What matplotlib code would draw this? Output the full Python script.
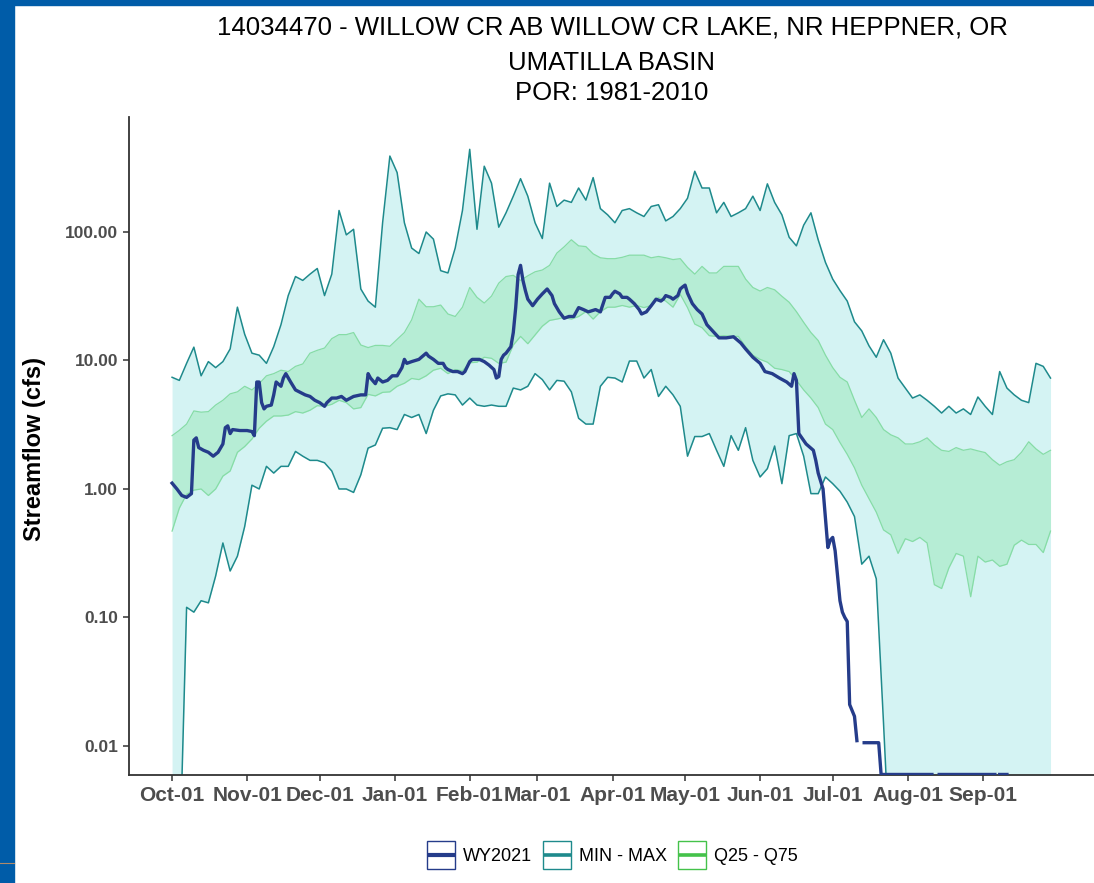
import numpy as np
import pandas as pd
import matplotlib
matplotlib.use('Agg')
from matplotlib import pyplot as plt
from matplotlib import dates as mdates
from matplotlib.lines import Line2D
from matplotlib.patches import Rectangle

plt.rcParams['font.family'] = 'Liberation Sans'

#%% Datos (cfs); un valor cada 3 dias desde Oct-01
inicio = pd.Timestamp('2020-10-01')
dias = np.arange(0, 364, 3)

caudal_max = [7.4, 7.0, 9.5, 12.7, 7.6, 9.8, 8.8, 9.8, 12.3, 26,
              16, 11.4, 11, 9.5, 12.8, 19, 32, 45, 42, 47,
              52, 32, 47, 147, 95, 105, 36, 29, 26, 118,
              390, 290, 118, 75, 68, 100, 88, 50, 48, 75,
              147, 440, 105, 325, 240, 109, 141, 190, 260, 190,
              118, 89, 240, 158, 177, 170, 220, 177, 265, 152,
              136, 118, 147, 152, 141, 132, 158, 163, 122, 132,
              152, 183, 297, 220, 220, 141, 170, 132, 141, 152,
              190, 147, 237, 170, 136, 91, 78, 113, 141, 87,
              58, 43, 35, 29, 20, 17, 13, 10.6, 14.5, 11.4,
              7.3, 6.1, 5.1, 5.4, 4.9, 4.4, 3.9, 4.4, 3.9, 4.2,
              3.8, 5.2, 4.4, 3.8, 8.2, 6.1, 5.4, 4.9, 4.7, 9.5,
              9.0, 7.3]

caudal_min = [0.001, 0.001, 0.12, 0.11, 0.135, 0.13, 0.21, 0.38, 0.23, 0.30,
              0.51, 1.07, 1.0, 1.5, 1.33, 1.5, 1.5, 1.96, 1.8, 1.67,
              1.67, 1.6, 1.38, 1.0, 1.0, 0.94, 1.29, 2.08, 2.2, 2.97,
              3.0, 2.9, 3.8, 3.6, 3.8, 2.7, 4.1, 5.3, 5.5, 5.4,
              4.5, 5.1, 4.5, 4.4, 4.5, 4.4, 4.4, 6.1, 5.9, 6.3,
              7.9, 7.1, 5.9, 7.0, 6.9, 5.7, 3.55, 3.2, 3.2, 6.3,
              7.4, 7.3, 6.8, 9.9, 9.9, 7.3, 8.5, 5.25, 6.3, 5.4,
              4.4, 1.8, 2.56, 2.56, 2.7, 2.0, 1.5, 2.6, 2.0, 3.0,
              1.67, 1.24, 1.44, 2.16, 1.1, 2.6, 2.7, 1.8, 0.92, 0.92,
              1.24, 1.1, 0.96, 0.79, 0.61, 0.26, 0.30, 0.2, 0.015, 0.001,
              0.001, 0.001, 0.001, 0.001, 0.001, 0.001, 0.001, 0.001, 0.001, 0.001,
              0.001, 0.001, 0.001, 0.001, 0.001, 0.001, 0.001, 0.001, 0.001, 0.001,
              0.001, 0.001]

q75 = [2.6, 2.86, 3.2, 4.05, 3.96, 4.0, 4.5, 4.9, 5.5, 5.7,
       6.3, 5.9, 6.6, 7.6, 7.9, 8.4, 8.2, 9.0, 9.4, 11.4,
       12, 12.5, 14.8, 15.9, 15.9, 16.5, 13.2, 12.6, 13.1, 13.1,
       12.9, 14.6, 16.5, 20.7, 30, 26.2, 26.2, 27, 23, 22,
       26, 37, 31, 28, 31.7, 40, 45, 46, 42, 45.6,
       49, 50.6, 55, 68.5, 76.6, 87, 78, 77, 67.6, 63,
       62, 62, 63.5, 66, 66, 66, 63, 64.5, 63, 61,
       62, 53, 47, 54, 48, 48, 54, 54, 54, 43,
       37, 34.7, 37, 35.5, 31.6, 28.4, 24, 19.8, 16.5, 14.3,
       11, 8.8, 7.4, 6.8, 4.9, 3.6, 4.2, 3.6, 2.9, 2.64,
       2.5, 2.24, 2.24, 2.33, 2.5, 2.2, 2.0, 1.96, 2.1, 2.0,
       2.05, 1.98, 1.92, 1.69, 1.53, 1.63, 1.69, 1.93, 2.33, 2.05,
       1.86, 2.0]

q25 = [0.47, 0.71, 0.91, 0.98, 1.0, 0.89, 1.0, 1.26, 1.38, 1.93,
       2.14, 2.45, 2.97, 3.37, 3.7, 3.7, 3.76, 4.0, 3.9, 4.1,
       4.45, 4.4, 4.56, 4.9, 4.7, 4.2, 4.3, 5.45, 5.3, 5.65,
       5.7, 6.3, 6.65, 7.25, 7.1, 7.6, 8.4, 8.7, 7.9, 8.5,
       8.3, 9.6, 9.7, 10.6, 10.4, 9.5, 9.7, 13.2, 15.4, 13.5,
       15.8, 18.5, 20.5, 21, 21.6, 21, 22, 24, 21, 24,
       26, 26, 26.8, 26, 26.8, 25.8, 26.8, 31, 29, 26,
       32.7, 25.8, 19.2, 18, 15.6, 15.4, 15.6, 15.4, 15.4, 12.8,
       11, 10.2, 9.7, 8.7, 8.5, 8.2, 7.0, 5.9, 5.1, 4.3,
       3.2, 2.9, 2.3, 1.86, 1.46, 1.07, 0.84, 0.66, 0.48, 0.44,
       0.315, 0.41, 0.39, 0.42, 0.38, 0.18, 0.168, 0.243, 0.315, 0.30,
       0.145, 0.30, 0.27, 0.28, 0.25, 0.26, 0.365, 0.40, 0.37, 0.37,
       0.32, 0.47]

# WY2021: dia desde Oct-01 y caudal (nan = sin dato)
wy_dia = [0, 2, 4, 6, 8, 9, 10, 11, 13, 15, 17, 19, 21, 22, 23, 24, 25, 28, 31, 33,
          34, 35, 36, 37, 38, 39, 41, 42, 43, 45, 46, 47, 49, 51, 53, 55, 57, 59, 61, 63,
          64, 66, 68, 70, 72, 75, 78, 80, 81, 82, 84, 85, 87, 89, 91, 93, 95, 96, 97, 99,
          102, 104, 105, 106, 108, 110, 112, 113, 114, 116, 118, 120, 121, 123, 124, 127, 129, 131, 133, 134,
          135, 136, 137, 138, 140, 141, 142, 143, 144, 145, 146, 147, 149, 151, 153, 155, 157, 158, 160, 162,
          164, 166, 168, 170, 172, 175, 177, 179, 181, 182, 183, 185, 186, 188, 189, 191, 193, 194, 196, 198,
          200, 202, 203, 204, 206, 207, 209, 210, 211, 212, 213, 215, 217, 219, 221, 224, 226, 229, 232, 235,
          237, 240, 243, 245, 248, 251, 254, 256, 257, 258, 259, 262, 265, 266, 267, 269, 270, 271, 272, 273,
          274, 275, 276, 277, 278, 279, 280, 282, 283, 284, 286, 292, 293, 314, 315, 317, 340, 341, 342, 345]
wy_cfs = [1.11, 1.0, 0.89, 0.86, 0.92, 2.4, 2.5, 2.1, 2.0, 1.93, 1.8, 1.93, 2.24, 3.0, 3.1, 2.7, 2.9, 2.85, 2.85, 2.8,
          2.6, 6.8, 6.8, 4.7, 4.2, 4.4, 4.5, 5.4, 6.8, 6.3, 7.3, 7.9, 6.8, 5.9, 5.65, 5.4, 5.25, 4.9, 4.7, 4.4,
          4.7, 5.1, 5.1, 5.25, 4.9, 5.25, 5.4, 5.4, 7.9, 7.3, 6.6, 7.3, 6.8, 7.0, 7.6, 7.6, 8.8, 10.2, 9.5, 9.8,
          10.2, 11, 11.4, 10.8, 10.2, 9.5, 9.5, 8.8, 8.5, 8.2, 8.2, 7.9, 8.2, 9.8, 10.2, 10.2, 9.8, 9.2, 8.5, 7.3,
          7.5, 10.2, 11, 11.4, 12.8, 16.5, 25.8, 46.6, 55, 42, 35, 30, 26.7, 30, 33, 36, 32, 27.7, 23.9, 21.3,
          22, 22, 25.8, 24.9, 23.9, 24.9, 23.9, 31, 31, 33, 34.6, 33, 31, 31, 30, 27.7, 24.9, 23, 23.9, 26.7,
          30, 29, 30, 32, 31, 30, 32, 36, 37.4, 38.6, 33.4, 27.7, 24.9, 23, 19, 16.5, 15, 15, 15.3, 13.7,
          12.3, 10.6, 9.5, 8.2, 7.9, 7.3, 6.8, 6.3, 7.9, 7.0, 2.7, 2.24, 2.0, 1.67, 1.33, 1.0, 0.59, 0.35, 0.4, 0.42,
          0.33, 0.21, 0.135, 0.11, 0.1, 0.093, 0.021, 0.017, 0.011, np.nan, 0.0106, 0.0106, 0.006, 0.006, np.nan, 0.006, 0.006, np.nan, 0.006, 0.006]

marcas_y = [0.01, 0.1, 1, 10, 100]
etiquetas_y = ['0.01', '0.10', '1.00', '10.00', '100.00']

#%% Colores
c_wy = '#253C8A'
c_minmax = '#1E8A8C'
c_minmax_relleno = '#D4F3F3'
c_q = '#86DCA6'
c_q_relleno = '#B6EDD5'
c_q_leyenda = '#44C24A'
gris = '#4D4D4D'

fechas = (inicio + pd.to_timedelta(dias, unit='D')).to_numpy()
fechas_wy = (inicio + pd.to_timedelta(wy_dia, unit='D')).to_numpy()

fig = plt.figure(figsize=(10.94, 8.83), dpi=100)
ax = fig.add_axes([129 / 1094, 1 - 775 / 883, (1096 - 129) / 1094, (775 - 117) / 883])

ax.fill_between(fechas, caudal_min, caudal_max, color=c_minmax_relleno, lw=0, zorder=1)
ax.plot(fechas, caudal_max, color=c_minmax, lw=1.1, zorder=2)
ax.plot(fechas, caudal_min, color=c_minmax, lw=1.1, zorder=2)
ax.fill_between(fechas, q25, q75, color=c_q_relleno, lw=0, zorder=1.5)
ax.plot(fechas, q75, color=c_q, lw=0.9, zorder=1.6)
ax.plot(fechas, q25, color=c_q, lw=0.9, zorder=1.6)
ax.plot(fechas_wy, wy_cfs, color=c_wy, lw=2.4, zorder=3)

ax.set_yscale('log')
ax.set_ylim(10 ** -2.226, 10 ** 2.895)
ax.set_xlim(inicio - pd.Timedelta(days=17.8), inicio + pd.Timedelta(days=381.8))
ax.yaxis.set_major_locator(matplotlib.ticker.FixedLocator(marcas_y))
ax.yaxis.set_major_formatter(matplotlib.ticker.FixedFormatter(etiquetas_y))
ax.yaxis.set_minor_locator(matplotlib.ticker.NullLocator())
meses = pd.date_range(inicio, periods=12, freq='MS')
ax.set_xticks(meses.to_numpy())
ax.xaxis.set_major_formatter(mdates.DateFormatter('%b-%d'))

for lado in ['top', 'right']:
    ax.spines[lado].set_visible(False)
for lado in ['left', 'bottom']:
    ax.spines[lado].set_color('#333333')
    ax.spines[lado].set_linewidth(1.3)
ax.tick_params(length=4, width=1.1, color='#333333', labelcolor=gris, pad=4)
ax.tick_params(axis='y', labelsize=12.5)
ax.tick_params(axis='x', labelsize=15)
for t in ax.get_xticklabels() + ax.get_yticklabels():
    t.set_fontweight('bold')

# Titulos y etiqueta del eje y
xc = 612 / 1094
fig.text(xc, 1 - 28 / 883, '14034470 - WILLOW CR AB WILLOW CR LAKE, NR HEPPNER, OR',
         ha='center', va='center', fontsize=18.5)
fig.text(xc, 1 - 63 / 883, 'UMATILLA BASIN', ha='center', va='center', fontsize=18.5)
fig.text(xc, 1 - 93 / 883, 'POR: 1981-2010', ha='center', va='center', fontsize=18.5)
fig.text(35 / 1094, 1 - 449 / 883, 'Streamflow (cfs)', rotation=90, ha='center', va='center',
         fontsize=17, fontweight='bold')


# Leyenda: caja con borde y linea al medio, como las claves de ggplot
class ClaveCaja:
    def legend_artist(self, legend, orig_handle, fontsize, handlebox):
        x0, y0 = -handlebox.xdescent, -handlebox.ydescent
        w, h = handlebox.width, handlebox.height
        color = orig_handle.get_color()
        caja = Rectangle((x0, y0), w, h, facecolor='white', edgecolor=color, lw=1.0,
                         transform=handlebox.get_transform())
        linea = Line2D([x0, x0 + w], [y0 + h / 2] * 2, color=color, lw=orig_handle.get_linewidth(),
                       solid_capstyle='butt', transform=handlebox.get_transform())
        handlebox.add_artist(caja)
        handlebox.add_artist(linea)
        return caja


manijas = [Line2D([], [], color=c_wy, lw=3.0),
           Line2D([], [], color=c_minmax, lw=2.6),
           Line2D([], [], color=c_q_leyenda, lw=2.6)]
fig.legend(manijas, ['WY2021', 'MIN - MAX', 'Q25 - Q75'], loc='center',
           bbox_to_anchor=(xc, 1 - 855 / 883), ncol=3, frameon=False, fontsize=13,
           handlelength=1.55, handleheight=2.0, handletextpad=0.45, columnspacing=0.6,
           handler_map={Line2D: ClaveCaja()})

# Borde azul de la diapositiva
fig.add_artist(Rectangle((0, 0), 14 / 1094, 1, transform=fig.transFigure, color='#005CA8', zorder=0))
fig.add_artist(Rectangle((0, 1 - 5 / 883), 1, 5 / 883, transform=fig.transFigure, color='#005CA8', zorder=0))
fig.add_artist(Line2D([0, 14 / 1094], [1 - 862.5 / 883] * 2, transform=fig.transFigure, color='#B08A6A', lw=0.8))

fig.savefig('out.png', dpi=100)
